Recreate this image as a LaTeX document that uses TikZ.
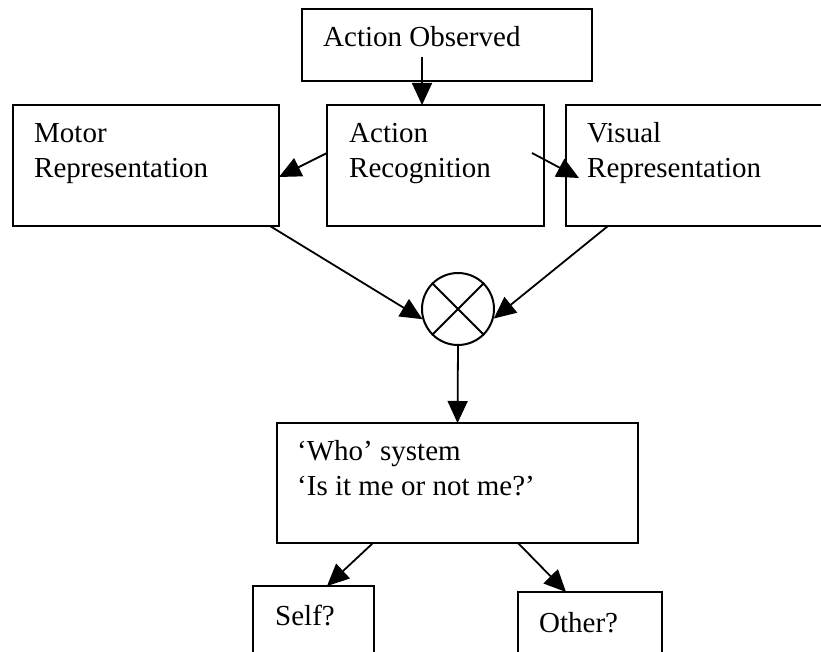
\documentclass[tikz,border=0pt]{standalone}
\usepackage{fontspec}
\setmainfont{Liberation Serif}
\usetikzlibrary{arrows.meta,calc}

\tikzset{
  box/.style={draw, line width=2pt, inner sep=0pt, outer sep=0pt, anchor=north west},
  txt/.style={anchor=base west, align=left, inner sep=0pt, font=\fontsize{29}{35}\selectfont},
  arr/.style={line width=1.8pt, -{Triangle[length=22pt,width=20pt]}}
}

\begin{document}
\begin{tikzpicture}[x=1pt,y=-1pt]
  \useasboundingbox (0,0) rectangle (821,652);
  \clip (0,0) rectangle (821,652);

  % boxes
  \node[box, minimum width=290pt, minimum height=72pt] (ao) at (302,9) {};
  \node[box, minimum width=266pt, minimum height=121pt] (mot) at (13,105) {};
  \node[box, minimum width=217pt, minimum height=121pt] (ar) at (327,105) {};
  \node[box, minimum width=270pt, minimum height=121pt] (vis) at (566,105) {};
  \node[draw, circle, line width=2pt, minimum size=72pt, inner sep=0pt] (mult) at (458,309) {};
  \node[box, minimum width=361pt, minimum height=120pt] (who) at (277,423) {};
  \node[box, minimum width=121pt, minimum height=90pt] (self) at (253,586) {};
  \node[box, minimum width=144pt, minimum height=90pt] (oth) at (518,592) {};

  % texts (base = last line)
  \node[txt] (aoT) at ([shift={(21pt,-38pt)}]ao.north west) {Action Observed};
  \node[txt] (motT) at ([shift={(21pt,-73pt)}]mot.north west) {Motor\\Representation};
  \node[txt] (arT) at ([shift={(22pt,-73pt)}]ar.north west) {Action\\Recognition};
  \node[txt] (visT) at ([shift={(21pt,-73pt)}]vis.north west) {Visual\\Representation};
  \node[txt] (whoT) at ([shift={(20pt,-72pt)}]who.north west) {`Who' system\\`Is it me or not me?'};
  \node[txt] (selfT) at ([shift={(22pt,-39pt)}]self.north west) {Self?};
  \node[txt] (othT) at ([shift={(21pt,-40pt)}]oth.north west) {Other?};

  % cross in the circle
  \draw[line width=2pt] (mult.north west) -- (mult.south east);
  \draw[line width=2pt] (mult.north east) -- (mult.south west);

  % connectors
  \draw[arr] ([shift={(-25pt,24pt)}]ao.south) -- ([xshift=-13.5pt]ar.north);
  \draw[arr] ([yshift=-48pt]ar.north west) -- ([yshift=-72pt]mot.north east);
  \draw[arr] ([shift={(-12pt,-48pt)}]ar.north east) -- ([shift={(13pt,-73pt)}]vis.north west);
  \draw[arr] ([xshift=-9pt]mot.south east) -- (mult.196);
  \draw[arr] ([xshift=42pt]vis.south west) -- (mult.345);
  \draw[arr] (mult.south) -- (who.north);
  \draw[arr] ([xshift=96pt]who.south west) -- ([xshift=74pt]self.north west);
  \draw[arr] ([xshift=-120pt]who.south east) -- ([xshift=48pt]oth.north west);
\end{tikzpicture}
\end{document}
